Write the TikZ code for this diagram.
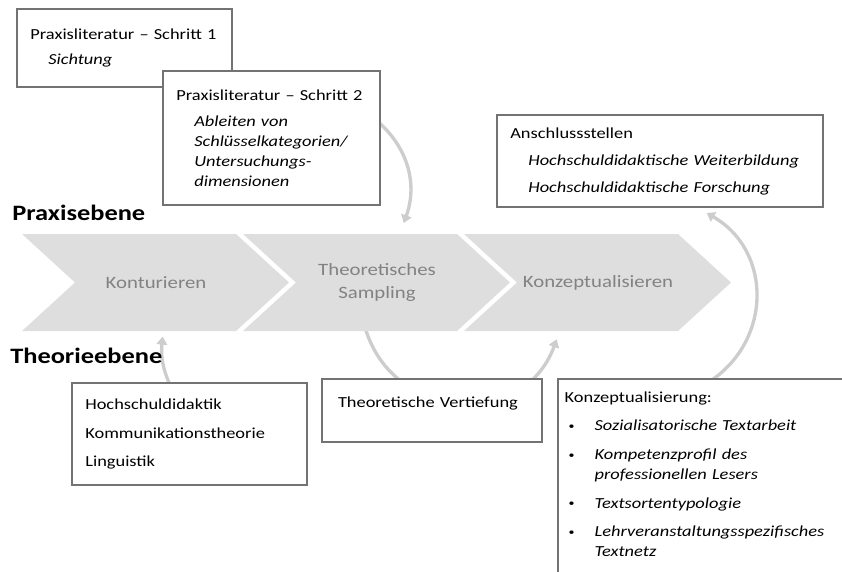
\documentclass[tikz,border=0pt]{standalone}
\usepackage{fontspec}
\setmainfont{Carlito}[FakeStretch=1.2]
\usetikzlibrary{arrows.meta,backgrounds}

\definecolor{stagegray}{RGB}{222,222,222}
\definecolor{stagetext}{RGB}{130,130,130}
\definecolor{flowgray}{RGB}{205,205,205}
\definecolor{framegray}{RGB}{115,115,115}

\newcommand{\indentit}[1]{\hspace*{13.5pt}\textit{#1}}
\newcommand{\itembullet}{\makebox[22.5pt][l]{\hspace{3pt}\raisebox{1pt}{\fontsize{7.5}{7.5}\selectfont\textbullet}}}

\begin{document}
\begin{tikzpicture}[x=0.75pt, y=-0.75pt,
	stage/.style={minimum width=160.5pt, minimum height=72.75pt, inner sep=0pt, text=stagetext, align=center, font=\fontsize{13}{17.25}\selectfont},
	infobox/.style={draw=framegray, line width=1.1pt, fill=white, anchor=north west, outer sep=0pt, inner xsep=10pt, align=left, font=\fontsize{11.5}{15}\selectfont},
	level/.style={anchor=west, inner sep=0pt, font=\fontsize{16.5}{20}\selectfont\bfseries},
	flow/.style={draw=flowgray, line width=2.5pt, -{Triangle[length=6pt,width=8pt]}}]
	\path[use as bounding box] (0,0) rectangle (842,571);
	\clip (0,0) rectangle (842,571);

	%levels
	\node[level] (praxis) at (12,213) {Praxisebene};
	\node[level] (theorie) at (10,356) {Theorieebene};

	%stages
	\foreach \n/\x/\txt in {kont/156/Konturieren, samp/377/{Theoretisches\\Sampling}, konz/598/Konzeptualisieren}{
		\fill[stagegray] (\x-134,234) -- ++(214,0) -- ++(53,48.5) -- ++(-53,48.5) -- ++(-214,0) -- ++(53,-48.5) -- cycle;
		\node[stage] (\n) at (\x,282.5) {\txt};
	}

	%boxes
	\node[infobox, text width=141.25pt, minimum height=58.5pt] (lit1) at (17,9)
		{Praxisliteratur~--~Schritt~1\\[3.75pt]\indentit{Sichtung}};
	\node[infobox, text width=142.75pt, minimum height=100.5pt] (lit2) at (163,71)
		{Praxisliteratur~--~Schritt~2\\[4.5pt]\indentit{Ableiten von}\\\indentit{Schlüsselkategorien/}\\\indentit{Untersuchungs-}\\\indentit{dimensionen}};
	\node[infobox, text width=224.5pt, minimum height=69pt] (ansch) at (497,115)
		{Anschlussstellen\\[5.25pt]\indentit{Hochschuldidaktische~Weiterbildung}\\[5.25pt]\indentit{Hochschuldidaktische~Forschung}};
	\node[infobox, text width=156.25pt, minimum height=76.5pt] (hoch) at (72,383)
		{Hochschuldidaktik\\[6.4pt]Kommunikationstheorie\\[6.4pt]Linguistik};
	\node[infobox, text width=141pt, inner xsep=12pt, inner ysep=5pt, text height=16pt, text depth=21.25pt] (vert) at (322,379)
		{Theoretische~Vertiefung};
	\node[infobox, text width=240pt, inner xsep=5pt, inner ysep=5pt, text height=12.25pt, text depth=160pt] (konzb) at (558,379)
		{Konzeptualisierung:\\[6.5pt]
		\itembullet\textit{Sozialisatorische~Textarbeit}\\[6.5pt]
		\itembullet\textit{Kompetenzprofil des}\\\hspace*{22.5pt}\textit{professionellen Lesers}\\[6.5pt]
		\itembullet\textit{Textsortentypologie}\\[6.5pt]
		\itembullet\textit{Lehrveranstaltungsspezifisches}\\\hspace*{22.5pt}\textit{Textnetz}};

	%arrows
	\begin{scope}[on background layer]
		\draw[flow] ([xshift=-3pt,yshift=13.5pt]lit2.east) to[out=-40, in=70] ([xshift=20pt,yshift=8pt]samp.north);
		\draw[flow] ([xshift=-14pt,yshift=-3pt]hoch.north) to[bend left=15] ([xshift=5pt,yshift=-4pt]kont.south);
		\draw[flow] ([xshift=-9pt,yshift=3pt]samp.south) to[out=-74, in=250, looseness=1.3] ([xshift=-31pt,yshift=-6pt]konz.south);
		\draw[flow] ([xshift=112pt,yshift=-3pt]konzb.north west) to[out=32, in=-30, looseness=1.15] ([xshift=35pt,yshift=-4.5pt]ansch.south);
	\end{scope}
\end{tikzpicture}
\end{document}
